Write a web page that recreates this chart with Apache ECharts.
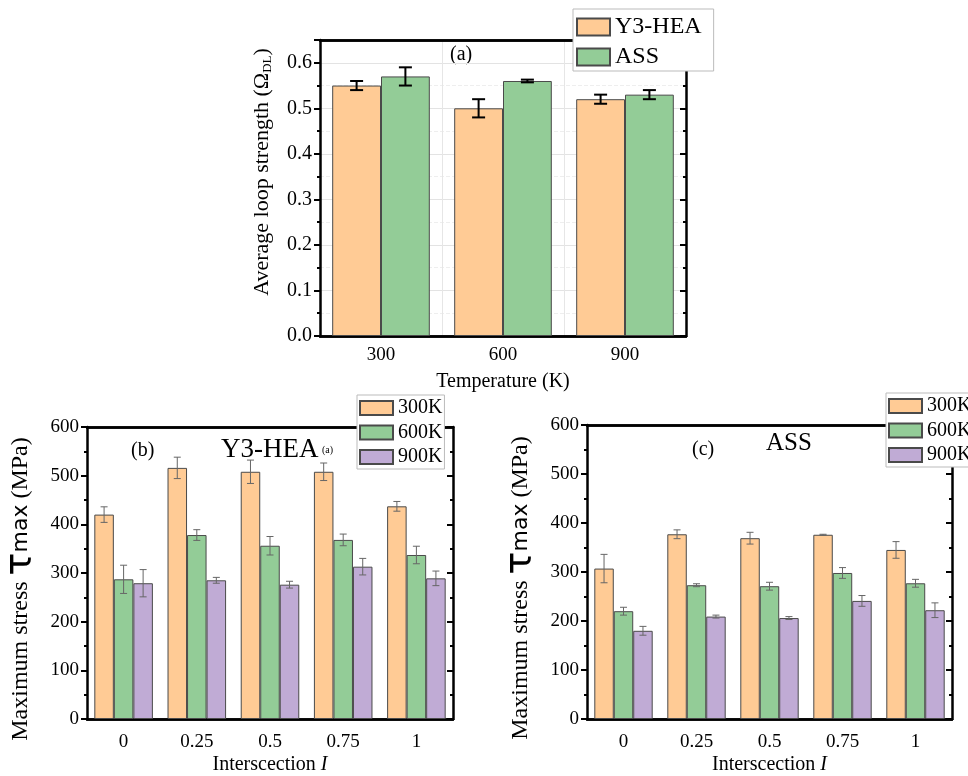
<!DOCTYPE html>
<html>
<head>
<meta charset="utf-8">
<script src="https://cdn.jsdelivr.net/npm/echarts@6/dist/echarts.min.js"></script>
<style>html,body{margin:0;padding:0;background:#fff}#c{width:968px;height:776px}</style>
</head>
<body>
<div id="c"></div>
<script>
// ---- data ----
const tempCats = ['300', '600', '900'];
const loopY3 = [0.55, 0.50, 0.52];
const loopY3Err = [0.01, 0.02, 0.01];
const loopASS = [0.57, 0.56, 0.53];
const loopASSErr = [0.02, 0.003, 0.01];

const interCats = ['0', '0.25', '0.5', '0.75', '1'];
const hea300 = [420, 516, 508, 508, 437];
const hea300Err = [16, 22, 24, 18, 10];
const hea600 = [287, 378, 356, 368, 337];
const hea600Err = [29, 11, 19, 12, 18];
const hea900 = [279, 285, 276, 313, 289];
const hea900Err = [28, 6, 7, 17, 15];
const ass300 = [307, 377, 369, 376, 345];
const ass300Err = [29, 9, 12, 1, 17];
const ass600 = [220, 273, 271, 298, 277];
const ass600Err = [8, 3, 8, 11, 8];
const ass900 = [180, 209, 206, 241, 222];
const ass900Err = [9, 3, 3, 11, 15];

const tempNames = ['300K', '600K', '900K'];
const alloyNames = ['Y3-HEA', 'ASS'];

// ---- styles ----
const C_OR = '#FFCB95', C_GR = '#93CC97', C_PU = '#C0ABD5';
const FONT = 'Liberation Serif';
const chart = echarts.init(document.getElementById('c'));

function xAxesFor(gi, cats, fs, gridLines, labelMargin) {
  const base = {type: 'category', data: cats, gridIndex: gi};
  const line = {show: true, lineStyle: {color: '#000', width: 2.5}};
  return [
    Object.assign({}, base, {position: 'bottom', axisLine: line,
      axisTick: {alignWithLabel: true, length: 6, lineStyle: {color: '#000', width: 2}},
      axisLabel: {fontFamily: FONT, fontSize: fs, color: '#000', margin: labelMargin}}),
    Object.assign({}, base, {position: 'bottom', axisLine: line,
      axisTick: {length: 3, lineStyle: {color: '#000', width: 2}}, axisLabel: {show: false},
      splitLine: {show: gridLines, lineStyle: {color: '#e6e6e6', width: 1}}}),
    Object.assign({}, base, {position: 'top', axisLine: line,
      axisTick: {alignWithLabel: true, inside: true, length: 6, lineStyle: {color: '#000', width: 2}}, axisLabel: {show: false}}),
    Object.assign({}, base, {position: 'top', axisLine: line,
      axisTick: {inside: true, length: 3, lineStyle: {color: '#000', width: 2}}, axisLabel: {show: false}})
  ];
}
function yAxesFor(gi, min, max, interval, fs, gridLines, name, nameGap, nameRich, namePad, fmt) {
  const line = {show: true, lineStyle: {color: '#000', width: 2.5}};
  return [
    {type: 'value', gridIndex: gi, position: 'left', min, max, interval,
      axisLine: line,
      axisTick: {show: true, length: 6, lineStyle: {color: '#000', width: 2}},
      minorTick: {show: true, splitNumber: 2, length: 3, lineStyle: {color: '#000', width: 2}},
      splitLine: {show: gridLines, lineStyle: {color: '#e3e3e3'}},
      minorSplitLine: {show: gridLines, lineStyle: {color: '#eeeeee', type: 'dashed'}},
      axisLabel: {fontFamily: FONT, fontSize: fs, color: '#000', margin: 8, formatter: fmt,
        showMaxLabel: (Math.round(max / interval) * interval === max)},
      name: name, nameLocation: 'middle', nameGap: nameGap, nameRotate: 90,
      nameTextStyle: {fontFamily: FONT, color: '#000', rich: nameRich, padding: namePad}},
    {type: 'value', gridIndex: gi, position: 'right', min, max, interval,
      axisLine: line,
      axisTick: {show: true, inside: true, length: 6, lineStyle: {color: '#000', width: 2}},
      minorTick: {show: true, splitNumber: 2, length: 3, lineStyle: {color: '#000', width: 2}},
      splitLine: {show: false}, axisLabel: {show: false}}
  ];
}

function barSeries(name, data, color, xi, yi) {
  return {type: 'bar', name, data, xAxisIndex: xi, yAxisIndex: yi,
    barGap: '0%', barCategoryGap: '20%',
    itemStyle: {color, borderColor: '#4a4a4a', borderWidth: 1}};
}
function errSeries(vals, errs, k, n, xi, yi, color, width, capW) {
  return {type: 'custom', xAxisIndex: xi, yAxisIndex: yi, z: 5, silent: true,
    data: vals.map((v, i) => [i, v, errs[i]]),
    encode: {x: 0, y: 1},
    renderItem: function (params, api) {
      const xi0 = api.value(0), v = api.value(1), e = api.value(2);
      const band = api.size([1, 0])[0];
      const bw = band * 0.8 / n;
      const off = (k - (n - 1) / 2) * bw;
      const t = api.coord([xi0, v + e]);
      const b = api.coord([xi0, v - e]);
      const x = t[0] + off, h = capW / 2;
      const st = {stroke: color, lineWidth: width};
      return {type: 'group', children: [
        {type: 'line', shape: {x1: x, y1: t[1], x2: x, y2: b[1]}, style: st},
        {type: 'line', shape: {x1: x - h, y1: t[1], x2: x + h, y2: t[1]}, style: st},
        {type: 'line', shape: {x1: x - h, y1: b[1], x2: x + h, y2: b[1]}, style: st}
      ]};
    }};
}

const yNameB = '{a|Maximum stress }{t|τ}{m|max}{a| (MPa)}';
const richB = {
  a: {fontFamily: FONT, fontSize: 24, color: '#000'},
  t: {fontFamily: 'DejaVu Sans', fontSize: 38, color: '#000'},
  m: {fontFamily: 'DejaVu Sans', fontSize: 22, color: '#000'}
};
const richA = {
  a: {fontFamily: FONT, fontSize: 22, color: '#000'},
  s: {fontFamily: FONT, fontSize: 13, color: '#000', verticalAlign: 'bottom', padding: [10, 0, 0, 0]}
};

const xAxis = [].concat(
  xAxesFor(0, tempCats, 19, true, 10),
  xAxesFor(1, interCats, 19, false, 14),
  xAxesFor(2, interCats, 19, false, 14)
);
xAxis[0].name = 'Temperature (K)'; xAxis[0].nameLocation = 'middle'; xAxis[0].nameGap = 36;
xAxis[0].nameTextStyle = {fontFamily: FONT, fontSize: 20, color: '#000'};
const interName = 'Interscection {i|I}';
const interStyle = {fontFamily: FONT, fontSize: 20, color: '#000',
  rich: {i: {fontFamily: FONT, fontStyle: 'italic', fontSize: 20, color: '#000'}}};
xAxis[4].name = interName; xAxis[4].nameLocation = 'middle'; xAxis[4].nameGap = 36; xAxis[4].nameTextStyle = interStyle;
xAxis[8].name = interName; xAxis[8].nameLocation = 'middle'; xAxis[8].nameGap = 36; xAxis[8].nameTextStyle = interStyle;

const yAxis = [].concat(
  yAxesFor(0, 0, 0.65, 0.1, 20, true, '{a|Average loop strength (Ω}{s|DL}{a|)}', 46, richA, [0, 0, 0, 32], v => v.toFixed(1)),
  yAxesFor(1, 0, 600, 100, 19, false, yNameB, 47, richB, [0, 32, 0, 0], v => v),
  yAxesFor(2, 0, 600, 100, 19, false, yNameB, 47, richB, [0, 32, 0, 0], v => v)
);

const series = [
  barSeries(alloyNames[0], loopY3, C_OR, 0, 0),
  barSeries(alloyNames[1], loopASS, C_GR, 0, 0),
  errSeries(loopY3, loopY3Err, 0, 2, 0, 0, '#000', 2, 13),
  errSeries(loopASS, loopASSErr, 1, 2, 0, 0, '#000', 2, 13),

  barSeries(tempNames[0], hea300, C_OR, 4, 2),
  barSeries(tempNames[1], hea600, C_GR, 4, 2),
  barSeries(tempNames[2], hea900, C_PU, 4, 2),
  errSeries(hea300, hea300Err, 0, 3, 4, 2, '#666', 1, 7),
  errSeries(hea600, hea600Err, 1, 3, 4, 2, '#666', 1, 7),
  errSeries(hea900, hea900Err, 2, 3, 4, 2, '#666', 1, 7),

  barSeries(tempNames[0], ass300, C_OR, 8, 4),
  barSeries(tempNames[1], ass600, C_GR, 8, 4),
  barSeries(tempNames[2], ass900, C_PU, 8, 4),
  errSeries(ass300, ass300Err, 0, 3, 8, 4, '#666', 1, 7),
  errSeries(ass600, ass600Err, 1, 3, 8, 4, '#666', 1, 7),
  errSeries(ass900, ass900Err, 2, 3, 8, 4, '#666', 1, 7)
];

const legendBase = {orient: 'vertical', icon: 'rect', backgroundColor: '#fff',
  borderColor: '#bbb', borderWidth: 1, borderRadius: 0, itemWidth: 33, selectedMode: false};

chart.setOption({
  animation: false,
  backgroundColor: '#fff',
  grid: [
    {left: 320, top: 40, width: 366, height: 296},
    {left: 87, top: 427, width: 366, height: 296},
    {left: 587, top: 425, width: 365, height: 297}
  ],
  xAxis, yAxis, series,
  legend: [
    Object.assign({}, legendBase, {left: 573, top: 9, data: alloyNames, itemHeight: 17, itemGap: 6,
      padding: [6, 12, 2, 3], textStyle: {fontFamily: FONT, fontSize: 24, color: '#000'}}),
    Object.assign({}, legendBase, {left: 357, top: 395, data: tempNames, itemHeight: 14, itemGap: 4.5,
      padding: [3, 2, 2, 2], textStyle: {fontFamily: FONT, fontSize: 20, color: '#000'}}),
    Object.assign({}, legendBase, {left: 886, top: 393, data: tempNames, itemHeight: 14, itemGap: 4.5,
      padding: [3, 2, 2, 2], textStyle: {fontFamily: FONT, fontSize: 20, color: '#000'}})
  ],
  graphic: [
    {type: 'text', left: 450, top: 45, style: {text: '(a)', font: '20px "Liberation Serif"', fill: '#000'}},
    {type: 'text', left: 131, top: 441, style: {text: '(b)', font: '20px "Liberation Serif"', fill: '#000'}},
    {type: 'text', left: 221, top: 436, style: {text: 'Y3-HEA', font: '27px "Liberation Serif"', fill: '#000'}},
    {type: 'text', left: 322, top: 445, style: {text: '(a)', font: '10px "Liberation Serif"', fill: '#000'}},
    {type: 'text', left: 692, top: 440, style: {text: '(c)', font: '20px "Liberation Serif"', fill: '#000'}},
    {type: 'text', left: 766, top: 431, style: {text: 'ASS', font: '25px "Liberation Serif"', fill: '#000'}}
  ]
});
</script>
</body>
</html>
